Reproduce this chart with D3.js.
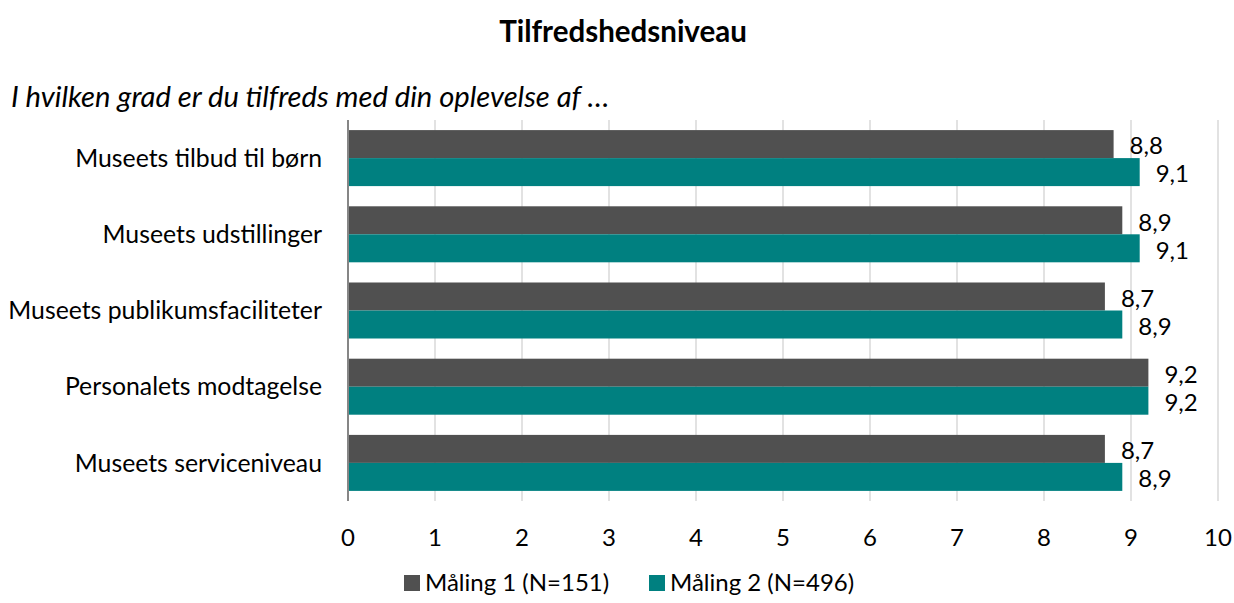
<!DOCTYPE html>
<html>
<head>
<meta charset="utf-8">
<script src="https://cdn.jsdelivr.net/npm/d3@7"></script>
<style>
  body { margin: 0; background: #fff; }
  svg { font-family: Lato, "Open Sans", sans-serif; }
</style>
</head>
<body>
<svg id="chart" width="1234" height="603"></svg>
<script>
// data
const categories = [
  "Museets tilbud til børn",
  "Museets udstillinger",
  "Museets publikumsfaciliteter",
  "Personalets modtagelse",
  "Museets serviceniveau"
];
const seriesNames = ["Måling 1 (N=151)", "Måling 2 (N=496)"];
const maaling1 = [8.8, 8.9, 8.7, 9.2, 8.7];
const maaling2 = [9.1, 9.1, 8.9, 9.2, 8.9];
const xTicks = [0, 1, 2, 3, 4, 5, 6, 7, 8, 9, 10];

const colors = ["#505050", "#008080"];
const margin = {top: 120, right: 16, bottom: 102, left: 348};
const svg = d3.select("#chart");
const width = +svg.attr("width");
const height = +svg.attr("height");

const x = d3.scaleLinear()
  .domain([0, 10])
  .range([margin.left, width - margin.right]);

const y = d3.scaleBand()
  .domain(categories)
  .range([margin.top, height - margin.bottom])
  .paddingInner(0.265)
  .paddingOuter(0.1325);

const ySub = d3.scaleBand()
  .domain([0, 1])
  .range([0, y.bandwidth()]);

// gridlines
svg.append("g")
  .selectAll("line")
  .data(xTicks.slice(1))
  .join("line")
  .attr("x1", d => x(d)).attr("x2", d => x(d))
  .attr("y1", margin.top).attr("y2", height - margin.bottom)
  .attr("stroke", "#d9d9d9")
  .attr("stroke-width", 1.5);

// bars
const rows = categories.map((c, i) => ({c, vals: [maaling1[i], maaling2[i]]}));
const groups = svg.append("g")
  .selectAll("g")
  .data(rows)
  .join("g")
  .attr("transform", d => `translate(0,${y(d.c)})`);

groups.selectAll("rect")
  .data(d => d.vals.map((v, k) => ({v, k})))
  .join("rect")
  .attr("x", x(0))
  .attr("y", d => ySub(d.k))
  .attr("width", d => x(d.v) - x(0))
  .attr("height", ySub.bandwidth())
  .attr("fill", d => colors[d.k]);

groups.selectAll("text")
  .data(d => d.vals.map((v, k) => ({v, k})))
  .join("text")
  .attr("x", d => x(d.v) + 16)
  .attr("y", d => ySub(d.k) + ySub.bandwidth() / 2 + 2)
  .attr("dy", "0.35em")
  .attr("font-size", 24)
  .attr("fill", "#000")
  .text(d => d3.format(".1f")(d.v).replace(".", ","));

// y axis line
svg.append("line")
  .attr("x1", x(0)).attr("x2", x(0))
  .attr("y1", margin.top).attr("y2", height - margin.bottom)
  .attr("stroke", "#868686")
  .attr("stroke-width", 2);

// category labels
svg.append("g")
  .selectAll("text")
  .data(categories)
  .join("text")
  .attr("x", 322)
  .attr("y", d => y(d) + y.bandwidth() / 2)
  .attr("dy", "0.35em")
  .attr("text-anchor", "end")
  .attr("font-size", 24.8)
  .text(d => d);

// x tick labels
svg.append("g")
  .selectAll("text")
  .data(xTicks)
  .join("text")
  .attr("x", d => x(d))
  .attr("y", 538)
  .attr("dy", "0.35em")
  .attr("text-anchor", "middle")
  .attr("font-size", 24)
  .text(d => d);

// title
svg.append("text")
  .attr("x", 623)
  .attr("y", 32)
  .attr("dy", "0.35em")
  .attr("text-anchor", "middle")
  .attr("font-size", 29.5)
  .attr("font-weight", "bold")
  .text("Tilfredshedsniveau");

svg.append("text")
  .attr("x", 11)
  .attr("y", 97)
  .attr("dy", "0.35em")
  .attr("font-size", 29.2)
  .attr("font-style", "italic")
  .text("I hvilken grad er du tilfreds med din oplevelse af …");

// legend
const legendX = [404, 649];
const legend = svg.append("g")
  .selectAll("g")
  .data(seriesNames)
  .join("g")
  .attr("transform", (d, i) => `translate(${legendX[i]},583)`);
legend.append("rect")
  .attr("x", 0).attr("y", -8)
  .attr("width", 16).attr("height", 16)
  .attr("fill", (d, i) => colors[i]);
legend.append("text")
  .attr("x", 21)
  .attr("dy", "0.35em")
  .attr("font-size", 24)
  .text(d => d);
</script>
</body>
</html>
